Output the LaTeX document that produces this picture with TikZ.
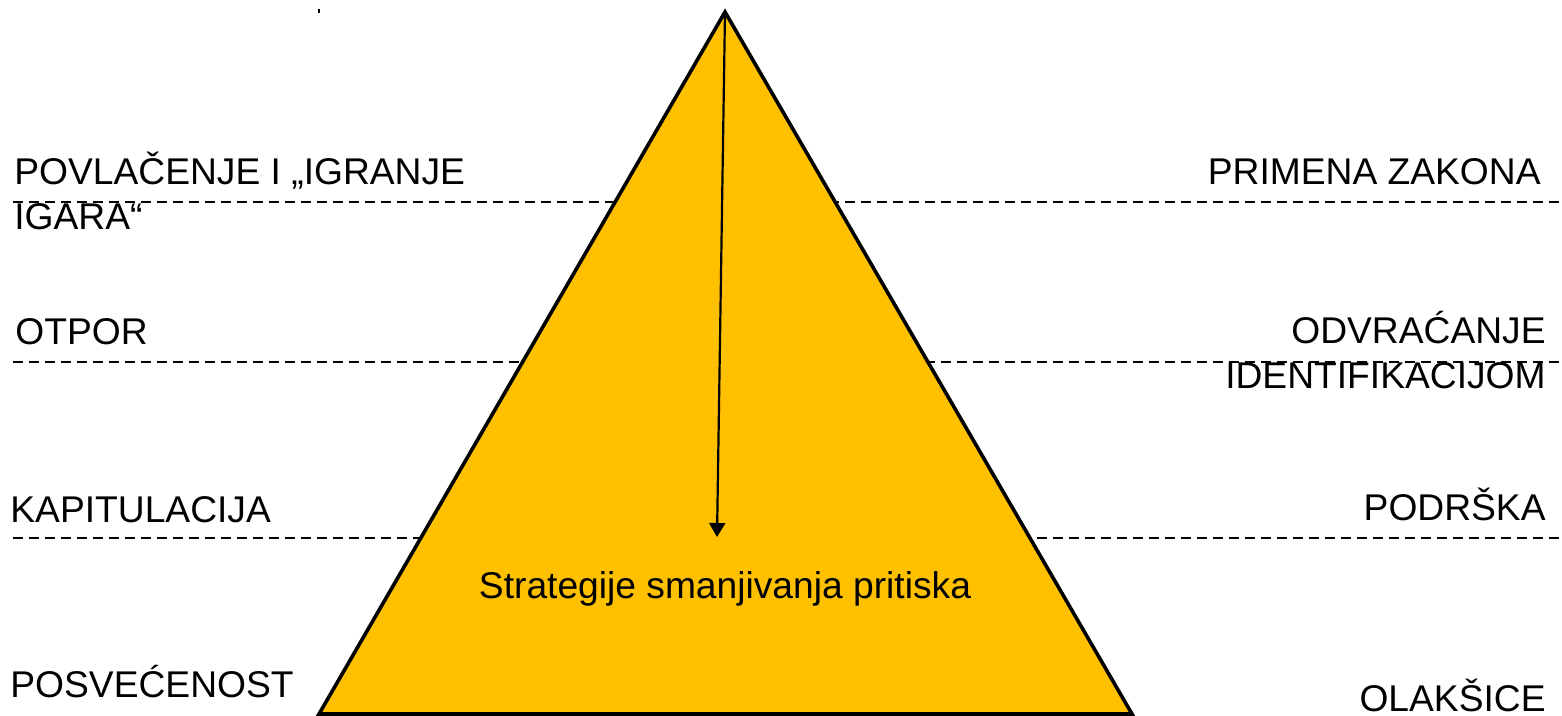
\documentclass[tikz,border=0pt]{standalone}
\usepackage{fontspec}
\setmainfont{Liberation Sans}
\usepackage{tikz}
\usetikzlibrary{arrows.meta}
\definecolor{piramida}{HTML}{FFC000}

\begin{document}
\begin{tikzpicture}[x=0.5pt,y=-0.5pt,
  lbl/.style={inner sep=0pt,font=\fontsize{18.6}{22.5}\selectfont},
  nivo/.style={line width=0.9pt,dash pattern=on 5pt off 3pt}]

  \useasboundingbox (0,0) rectangle (1562,716);

  % levels
  \coordinate (n1l) at (13,202);  \coordinate (n1r) at (1562,202);
  \coordinate (n2l) at (13,362);  \coordinate (n2r) at (1562,362);
  \coordinate (n3l) at (13,538);  \coordinate (n3r) at (1562,538);
  \draw[nivo] (n1l) -- (n1r);
  \draw[nivo] (n2l) -- (n2r);
  \draw[nivo] (n3l) -- (n3r);

  % pyramid
  \coordinate (vrh) at (725,12);
  \coordinate (dl) at (319,714);
  \coordinate (dd) at (1132,714);
  \filldraw[fill=piramida,line width=1.8pt] (vrh) -- (dl) -- (dd) -- cycle;

  \coordinate (cilj) at (717,537);
  \draw[line width=1.1pt,-{Triangle[width=8pt,length=7pt]}] (vrh) -- (cilj);

  \node[lbl,anchor=base] (strategije) at (725,598) {Strategije smanjivanja pritiska};

  % left side
  \node[lbl,anchor=base west,align=left] (povlacenje) at (14,230) {POVLAČENJE I „IGRANJE\\IGARA“};
  \node[lbl,anchor=base west] (otpor) at (15,345) {OTPOR};
  \node[lbl,anchor=base west] (kapitulacija) at (10,522) {KAPITULACIJA};
  \node[lbl,anchor=base west] (posvecenost) at (10,697) {POSVEĆENOST};

  % right side
  \node[lbl,anchor=base east] (primena) at (1541,185) {PRIMENA ZAKONA};
  \node[lbl,anchor=base east,align=right] (odvracanje) at (1546,388) {ODVRAĆANJE\\IDENTIFIKACIJOM};
  \node[lbl,anchor=base east] (podrska) at (1546,520) {PODRŠKA};
  \node[lbl,anchor=base east] (olaksice) at (1546,711) {OLAKŠICE};

  % stray mark
  \coordinate (crta1) at (319,9);
  \coordinate (crta2) at (319,13);
  \draw[line width=0.6pt] (crta1) -- (crta2);
\end{tikzpicture}
\end{document}
